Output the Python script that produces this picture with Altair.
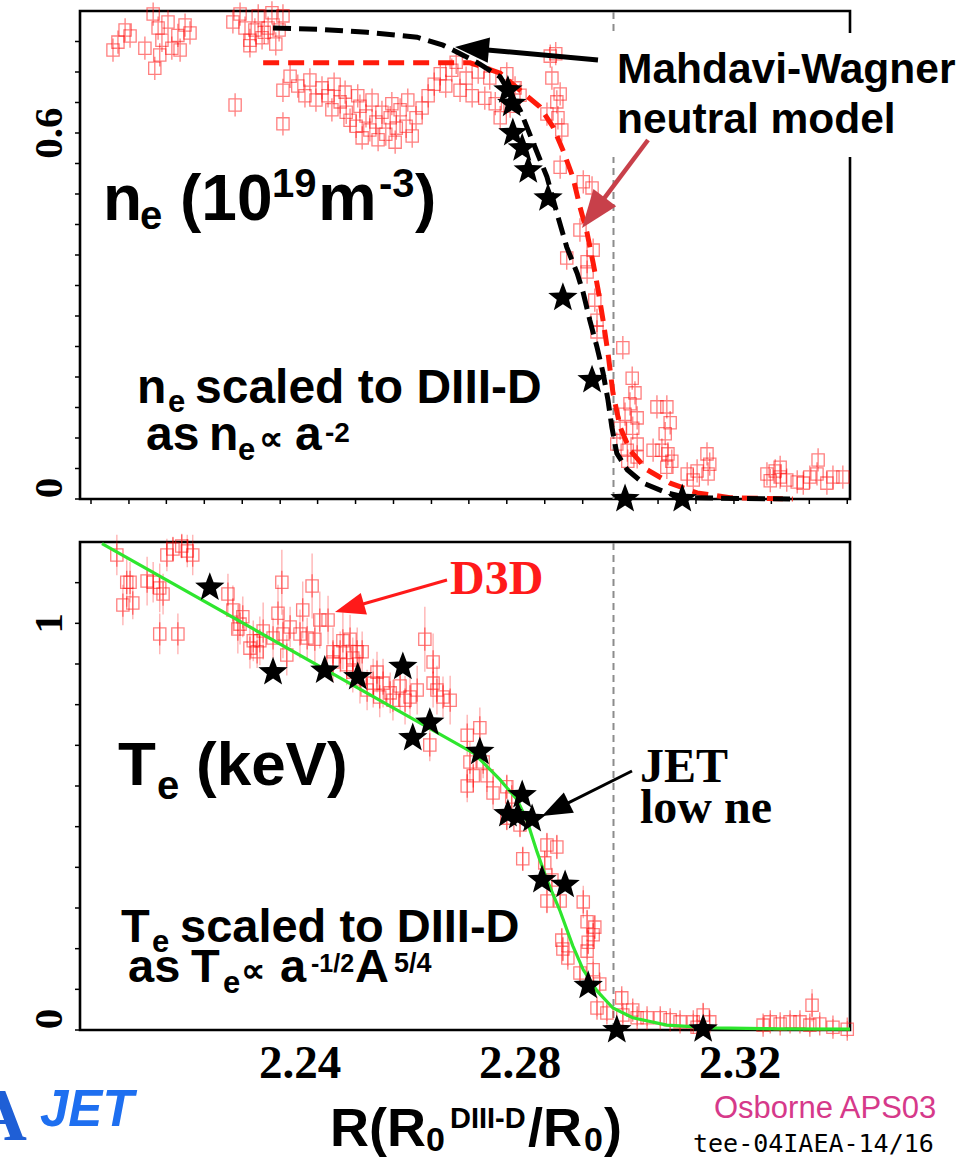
import math
import altair as alt
import pandas as pd

# ---------------------------------------------------------------- data
R_DOMAIN = [2.20, 2.34]
NE_DOMAIN = [0.0, 0.8]
TE_DOMAIN = [0.0, 1.2]
SEPARATRIX_R = 2.297

# DIII-D density profile points (R, n_e)
d3d_ne = [
    (2.2060, 0.736), (2.2069, 0.749), (2.2082, 0.769), (2.2091, 0.759), (2.2133, 0.795),
    (2.2142, 0.772), (2.2149, 0.752), (2.2145, 0.728), (2.2136, 0.706), (2.2160, 0.782),
    (2.2167, 0.739), (2.2178, 0.760), (2.2191, 0.777), (2.2200, 0.764), (2.2182, 0.736),
    (2.2118, 0.739),
    (2.2278, 0.782), (2.2291, 0.795), (2.2300, 0.772), (2.2309, 0.752), (2.2318, 0.769),
    (2.2324, 0.792), (2.2331, 0.756), (2.2342, 0.772), (2.2349, 0.797), (2.2356, 0.746),
    (2.2369, 0.792), (2.2309, 0.743), (2.2335, 0.765), (2.2362, 0.769),
    (2.2282, 0.646), (2.2369, 0.615),
    (2.2369, 0.670), (2.2382, 0.693), (2.2396, 0.677), (2.2409, 0.661), (2.2418, 0.687),
    (2.2429, 0.654), (2.2440, 0.674), (2.2451, 0.661), (2.2462, 0.680), (2.2473, 0.651),
    (2.2458, 0.638), (2.2484, 0.634), (2.2491, 0.621), (2.2502, 0.611), (2.2509, 0.644),
    (2.2520, 0.628), (2.2527, 0.605), (2.2538, 0.618), (2.2549, 0.634), (2.2556, 0.598),
    (2.2564, 0.625), (2.2575, 0.608), (2.2582, 0.638), (2.2593, 0.611), (2.2604, 0.595),
    (2.2611, 0.625), (2.2622, 0.641), (2.2633, 0.661), (2.2644, 0.680), (2.2655, 0.697),
    (2.2665, 0.677), (2.2676, 0.703), (2.2684, 0.716), (2.2691, 0.670), (2.2702, 0.690),
    (2.2713, 0.661), (2.2724, 0.700), (2.2482, 0.667), (2.2505, 0.661), (2.2531, 0.654),
    (2.2567, 0.648), (2.2596, 0.654), (2.2513, 0.592), (2.2573, 0.585), (2.2542, 0.589),
    (2.2736, 0.657), (2.2745, 0.690), (2.2755, 0.648), (2.2776, 0.697), (2.2782, 0.644),
    (2.2764, 0.625), (2.2791, 0.674), (2.2800, 0.662),
    (2.2855, 0.726), (2.2865, 0.730), (2.2858, 0.690), (2.2873, 0.664), (2.2867, 0.651),
    (2.2849, 0.631), (2.2869, 0.625), (2.2876, 0.605), (2.2873, 0.544), (2.2915, 0.520),
    (2.2931, 0.510), (2.2909, 0.441), (2.2933, 0.408), (2.2885, 0.395), (2.2922, 0.389),
    (2.2922, 0.372), (2.2936, 0.326), (2.2940, 0.293), (2.2940, 0.274), (2.2987, 0.248),
    (2.3004, 0.198), (2.3009, 0.174), (2.3000, 0.156), (2.2991, 0.139), (2.3013, 0.133),
    (2.3049, 0.151), (2.3067, 0.151), (2.3073, 0.125), (2.3064, 0.107), (2.3005, 0.116),
    (2.2982, 0.116), (2.2976, 0.090), (2.2995, 0.080), (2.3013, 0.090), (2.3042, 0.080),
    (2.3058, 0.080), (2.3069, 0.074), (2.3076, 0.062), (2.3067, 0.052), (2.3013, 0.069),
    (2.2996, 0.062), (2.3122, 0.046), (2.3140, 0.074), (2.3145, 0.057), (2.3142, 0.041),
    (2.3115, 0.031), (2.3104, 0.041), (2.3249, 0.041), (2.3264, 0.046), (2.3273, 0.052),
    (2.3285, 0.031), (2.3304, 0.028), (2.3327, 0.036), (2.3342, 0.064), (2.3340, 0.041),
    (2.3369, 0.036), (2.3387, 0.036), (2.3358, 0.026), (2.3315, 0.026), (2.3255, 0.030),
    (2.3273, 0.036),
]

# JET low-ne density, scaled to DIII-D (stars)
jet_ne = [
    (2.2778, 0.670), (2.2785, 0.648), (2.2787, 0.600), (2.2804, 0.575), (2.2815, 0.539),
    (2.2851, 0.493), (2.2878, 0.330), (2.2931, 0.195), (2.2991, 0.000), (2.3095, 0.000),
]

# Mahdavi-Wagner neutral model, JET case (black dashed)
mw_jet = [
    (2.2351, 0.772), (2.2436, 0.770), (2.2522, 0.765), (2.2613, 0.757), (2.2660, 0.744),
    (2.2700, 0.726), (2.2727, 0.713), (2.2764, 0.692), (2.2800, 0.638), (2.2824, 0.584),
    (2.2849, 0.528), (2.2867, 0.469), (2.2885, 0.413), (2.2904, 0.370), (2.2915, 0.338),
    (2.2927, 0.293), (2.2940, 0.249), (2.2951, 0.207), (2.2960, 0.162), (2.2967, 0.118),
    (2.2976, 0.075), (2.2995, 0.048), (2.3024, 0.026), (2.3067, 0.010), (2.3104, 0.002),
    (2.3291, 0.000),
]

# Mahdavi-Wagner neutral model, DIII-D case (red dashed)
mw_d3d = [
    (2.2333, 0.715), (2.2709, 0.715), (2.2727, 0.710), (2.2764, 0.698), (2.2800, 0.670),
    (2.2836, 0.643), (2.2860, 0.610), (2.2878, 0.572), (2.2896, 0.528), (2.2909, 0.479),
    (2.2922, 0.436), (2.2933, 0.387), (2.2942, 0.343), (2.2951, 0.293), (2.2960, 0.239),
    (2.2969, 0.174), (2.2982, 0.118), (2.3000, 0.080), (2.3031, 0.048), (2.3073, 0.026),
    (2.3122, 0.010), (2.3182, 0.002), (2.3296, 0.000),
]

# DIII-D temperature profile points (R, T_e, error)
d3d_te = [
    (2.2067, 1.168, 0.05), (2.2085, 1.101, 0.06), (2.2078, 1.045, 0.05), (2.2096, 1.050, 0.04),
    (2.2091, 1.101, 0.05), (2.2122, 1.104, 0.06), (2.2133, 1.101, 0.05), (2.2145, 1.087, 0.06),
    (2.2151, 1.072, 0.05), (2.2158, 1.168, 0.04), (2.2169, 1.183, 0.03), (2.2185, 1.190, 0.03),
    (2.2195, 1.178, 0.04), (2.2205, 1.168, 0.05), (2.2145, 0.974, 0.05), (2.2178, 0.974, 0.05),
    (2.2269, 1.072, 0.05), (2.2278, 1.033, 0.06), (2.2291, 0.998, 0.05), (2.2287, 0.986, 0.06),
    (2.2296, 1.016, 0.05), (2.2315, 0.957, 0.05), (2.2327, 0.957, 0.06), (2.2309, 0.939, 0.05),
    (2.2322, 0.930, 0.04), (2.2333, 0.981, 0.07), (2.2351, 0.964, 0.05), (2.2367, 1.101, 0.08),
    (2.2360, 1.025, 0.07), (2.2369, 0.974, 0.06), (2.2382, 0.991, 0.05), (2.2376, 0.922, 0.05),
    (2.2400, 0.974, 0.06), (2.2405, 1.033, 0.07), (2.2422, 1.092, 0.08), (2.2413, 0.964, 0.05),
    (2.2427, 0.961, 0.06), (2.2436, 1.008, 0.07), (2.2451, 1.008, 0.06), (2.2460, 0.930, 0.06),
    (2.2473, 0.930, 0.05), (2.2478, 0.957, 0.07), (2.2491, 0.961, 0.06), (2.2496, 0.915, 0.05),
    (2.2504, 0.930, 0.06), (2.2513, 0.930, 0.05), (2.2509, 0.863, 0.06), (2.2522, 0.836, 0.05),
    (2.2533, 0.853, 0.06), (2.2540, 0.880, 0.05), (2.2551, 0.853, 0.06), (2.2564, 0.829, 0.05),
    (2.2582, 0.846, 0.06), (2.2569, 0.811, 0.05), (2.2591, 0.811, 0.06), (2.2600, 0.819, 0.05),
    (2.2613, 0.836, 0.06), (2.2627, 0.961, 0.08), (2.2642, 0.905, 0.07), (2.2642, 0.853, 0.06),
    (2.2649, 0.836, 0.06), (2.2660, 0.819, 0.05), (2.2673, 0.811, 0.06), (2.2636, 0.701, 0.04),
    (2.2704, 0.725, 0.05), (2.2709, 0.659, 0.05), (2.2715, 0.625, 0.04), (2.2704, 0.600, 0.04),
    (2.2460, 0.905, 0.05), (2.2485, 0.898, 0.05), (2.2496, 0.880, 0.05), (2.2545, 0.819, 0.05),
    (2.2727, 0.743, 0.05), (2.2733, 0.659, 0.04), (2.2740, 0.625, 0.04), (2.2751, 0.583, 0.04),
    (2.2776, 0.598, 0.03), (2.2785, 0.573, 0.04), (2.2776, 0.521, 0.03), (2.2800, 0.504, 0.03),
    (2.2849, 0.455, 0.03), (2.2867, 0.450, 0.03), (2.2805, 0.421, 0.03), (2.2845, 0.411, 0.03),
    (2.2858, 0.369, 0.03), (2.2849, 0.317, 0.03), (2.2873, 0.317, 0.03), (2.2915, 0.315, 0.04),
    (2.2922, 0.266, 0.03), (2.2936, 0.253, 0.03), (2.2933, 0.234, 0.03), (2.2924, 0.216, 0.03),
    (2.2876, 0.221, 0.03), (2.2878, 0.199, 0.03), (2.2887, 0.177, 0.02), (2.2922, 0.194, 0.02),
    (2.2909, 0.140, 0.02), (2.2933, 0.148, 0.02), (2.2945, 0.113, 0.02), (2.2940, 0.054, 0.02),
    (2.2958, 0.042, 0.02), (2.2985, 0.079, 0.02), (2.2987, 0.037, 0.02), (2.3005, 0.049, 0.02),
    (2.3013, 0.030, 0.02), (2.3031, 0.030, 0.02), (2.3055, 0.030, 0.02), (2.3073, 0.025, 0.02),
    (2.3091, 0.020, 0.02), (2.3115, 0.020, 0.02), (2.3133, 0.037, 0.03), (2.3145, 0.020, 0.02),
    (2.3122, 0.007, 0.02), (2.3255, 0.020, 0.02), (2.3273, 0.015, 0.02), (2.3291, 0.020, 0.02),
    (2.3309, 0.020, 0.02), (2.3327, 0.012, 0.02), (2.3331, 0.061, 0.04), (2.3345, 0.015, 0.02),
    (2.3369, 0.007, 0.02), (2.3395, 0.002, 0.02), (2.3242, 0.012, 0.02),
]

# JET low-ne temperature, scaled to DIII-D (stars)
jet_te = [
    (2.2236, 1.088), (2.2351, 0.880), (2.2445, 0.884), (2.2505, 0.868), (2.2587, 0.893),
    (2.2605, 0.718), (2.2636, 0.756), (2.2727, 0.684), (2.2804, 0.578), (2.2778, 0.531),
    (2.2796, 0.526), (2.2822, 0.519), (2.2840, 0.369), (2.2882, 0.357), (2.2924, 0.109),
    (2.2976, 0.000), (2.3133, 0.002),
]

# tanh-like fit to the temperature pedestal (green)
fit_te = [
    (2.2040, 1.196), (2.2722, 0.676), (2.2727, 0.666), (2.2764, 0.615), (2.2795, 0.566),
    (2.2813, 0.514), (2.2831, 0.438), (2.2849, 0.369), (2.2873, 0.292), (2.2896, 0.207),
    (2.2915, 0.148), (2.2940, 0.096), (2.2969, 0.054), (2.3005, 0.030), (2.3067, 0.012),
    (2.3151, 0.005), (2.3273, 0.003), (2.3400, 0.002),
]

# axis ticks and labels
r_labels = [2.24, 2.28, 2.32]
r_minor = [2.2020, 2.2089, 2.2157, 2.2226, 2.2295, 2.2364, 2.2432, 2.2501, 2.2570,
           2.2639, 2.2707, 2.2776, 2.2845, 2.2914, 2.2982, 2.3051, 2.3120, 2.3189,
           2.3257, 2.3326, 2.3395]
ne_ticks = [round(i * 0.05, 2) for i in range(16)]
te_ticks = [round(i * 0.1, 1) for i in range(12)]
ne_labels = [0.0, 0.6]
te_labels = [0.0, 1.0]

# ---------------------------------------------------------------- layout (pixels)
W, H = 969, 1159
PLOT_X = [80, 850]
NE_Y = [499, 11]
TE_Y = [1030, 542]
TICK_END = 75          # outer end of the y ticks
YLABEL_X = 62          # baseline of the rotated y labels
XLABEL_Y = 1078        # baseline of the R labels

SERIF = "Liberation Serif"
SANS = "Liberation Sans"
D3D_RED = "#ff0000"
D3D_GLYPH = "M-1,-1H1V1H-1Z M0,-1.9V1.9"
HEAD = "M1,0L-1,-0.75L-1,0.75Z"


def star_path(inner=0.42):
    pts = []
    for k in range(10):
        a = math.radians(-90 + 36 * k)
        r = 1.0 if k % 2 == 0 else inner
        pts.append(f"{r * math.cos(a):.3f},{r * math.sin(a):.3f}")
    return "M" + "L".join(pts) + "Z"


STAR = star_path()


def df(rows, cols):
    return pd.DataFrame(rows, columns=cols)


def fmt(v):
    return f"{v:g}"


def panel(frame_y, xs, ys, y_ticks, y_labels, pts, err, stars, curves, x_minor=None, x_labels=None):
    X = lambda f: alt.X(f, scale=xs, axis=None)
    Y = lambda f: alt.Y(f, scale=ys, axis=None)

    frame = alt.Chart(pd.DataFrame({"x0": [R_DOMAIN[0]], "x1": [R_DOMAIN[1]],
                                    "y0": [frame_y[0]], "y1": [frame_y[1]]})).mark_rect(
        fillOpacity=0, stroke="black", strokeWidth=2.6
    ).encode(x=X("x0:Q"), x2="x1:Q", y=Y("y0:Q"), y2="y1:Q")

    sep = alt.Chart(pd.DataFrame({"R": [SEPARATRIX_R], "y0": [frame_y[0]], "y1": [frame_y[1]]})).mark_rule(
        color="#8c8c8c", strokeWidth=2, strokeDash=[7, 5]
    ).encode(x=X("R:Q"), y=Y("y0:Q"), y2="y1:Q")

    # y axis: ticks and rotated labels
    yt = alt.Chart(pd.DataFrame({"R": [R_DOMAIN[0]] * len(y_ticks), "v": y_ticks})).mark_rule(
        color="black", strokeWidth=1.5
    ).encode(x=X("R:Q"), x2=alt.value(TICK_END), y=Y("v:Q"))
    ylab = pd.DataFrame({"v": y_labels, "lab": [fmt(v) for v in y_labels]})
    ylab_main = alt.Chart(ylab[ylab.v != 0]).mark_text(
        angle=270, align="center", baseline="alphabetic", font=SERIF, fontWeight="bold",
        fontSize=41, color="black"
    ).encode(x=alt.value(YLABEL_X), y=Y("v:Q"), text="lab:N")
    ylab_zero = alt.Chart(ylab[ylab.v == 0]).mark_text(
        angle=270, align="center", baseline="alphabetic", font=SERIF, fontWeight="bold",
        fontSize=41, color="black", dx=11
    ).encode(x=alt.value(YLABEL_X), y=Y("v:Q"), text="lab:N")

    layers = [frame, sep, yt, ylab_main, ylab_zero]

    if x_minor is not None:
        layers.append(
            alt.Chart(pd.DataFrame({"R": x_minor, "v": [frame_y[0]] * len(x_minor)})).mark_rule(
                color="black", strokeWidth=1.5
            ).encode(x=X("R:Q"), y=Y("v:Q"), y2=alt.value(NE_Y[0] + 5))
        )
    if x_labels is not None:
        layers.append(
            alt.Chart(pd.DataFrame({"R": x_labels, "lab": [f"{v:.2f}" for v in x_labels]})).mark_text(
                align="center", baseline="alphabetic", font=SERIF, fontWeight="bold",
                fontSize=47, color="black"
            ).encode(x=X("R:Q"), y=alt.value(XLABEL_Y), text="lab:N")
        )

    if err is not None:
        layers.append(
            alt.Chart(err).mark_rule(color=D3D_RED, opacity=0.32, strokeWidth=1.3).encode(
                x=X("R:Q"), y=Y("lo:Q"), y2="hi:Q"
            )
        )
    layers.append(
        alt.Chart(pts).mark_point(shape=D3D_GLYPH, filled=False, color=D3D_RED, opacity=0.5,
                                  size=150, strokeWidth=1.3).encode(x=X("R:Q"), y=Y("v:Q"))
    )
    for data, style in curves:
        layers.append(
            alt.Chart(data).mark_line(**style).encode(x=X("R:Q"), y=Y("v:Q"), order="R:Q")
        )
    layers.append(
        alt.Chart(stars).mark_point(shape=STAR, filled=True, color="black", opacity=1,
                                    size=950).encode(x=X("R:Q"), y=Y("v:Q"))
    )
    return alt.layer(*layers)


# ---- upper panel: density
x_ne = alt.Scale(domain=R_DOMAIN, range=PLOT_X, zero=False, nice=False)
y_ne = alt.Scale(domain=NE_DOMAIN, range=NE_Y, zero=False, nice=False)
ne_panel = panel(
    NE_DOMAIN, x_ne, y_ne, ne_ticks, ne_labels,
    df(d3d_ne, ["R", "v"]), None, df(jet_ne, ["R", "v"]),
    [
        (df(mw_d3d, ["R", "v"]), dict(color="#ff1a0a", strokeWidth=5, strokeDash=[16, 9])),
        (df(mw_jet, ["R", "v"]), dict(color="black", strokeWidth=5, strokeDash=[18, 8])),
    ],
    x_minor=r_minor,
)

# ---- lower panel: temperature
x_te = alt.Scale(domain=R_DOMAIN, range=PLOT_X, zero=False, nice=False)
y_te = alt.Scale(domain=TE_DOMAIN, range=TE_Y, zero=False, nice=False)
te_pts = df(d3d_te, ["R", "v", "err"])
te_pts["lo"] = te_pts["v"] - te_pts["err"]
te_pts["hi"] = te_pts["v"] + te_pts["err"]
te_panel = panel(
    TE_DOMAIN, x_te, y_te, te_ticks, te_labels,
    te_pts, te_pts, df(jet_te, ["R", "v"]),
    [(df(fit_te, ["R", "v"]), dict(color="#2ee62e", strokeWidth=3.2))],
    x_labels=r_labels,
)

# ---- annotation arrows (pixel geometry)
arrows = [
    # tail x, tail y, tip x, tip y, colour, line width, head length
    (598, 60, 455, 47, "black", 5, 34),
    (648, 140, 582, 228, "#c8404a", 4.5, 38),
    (447, 580, 335, 612, "#ff1a1a", 3, 30),
    (632, 771, 542, 816, "black", 3, 30),
]
arrow_rows = []
for tx, ty, hx, hy, col, w, hl in arrows:
    dx, dy = hx - tx, hy - ty
    L = math.hypot(dx, dy)
    ux, uy = dx / L, dy / L
    arrow_rows.append(dict(
        x=tx, y=ty, x2=hx - ux * hl * 0.7, y2=hy - uy * hl * 0.7,
        cx=hx - ux * hl / 2, cy=hy - uy * hl / 2,
        ang=math.degrees(math.atan2(dy, dx)) % 360, col=col, w=w, s=hl * hl,
    ))
arrow_df = pd.DataFrame(arrow_rows)

arrow_lines = alt.Chart(arrow_df).mark_rule().encode(
    x=alt.X("x:Q", scale=None), y=alt.Y("y:Q", scale=None),
    x2="x2:Q", y2="y2:Q",
    color=alt.Color("col:N", scale=None),
    strokeWidth=alt.StrokeWidth("w:Q", scale=None),
)
arrow_heads = alt.Chart(arrow_df).mark_point(shape=HEAD, filled=True, opacity=1).encode(
    x=alt.X("cx:Q", scale=None), y=alt.Y("cy:Q", scale=None),
    angle=alt.Angle("ang:Q", scale=None),
    size=alt.Size("s:Q", scale=None),
    color=alt.Color("col:N", scale=None),
)

# white backing behind the model label, cutting the frame
label_box = alt.Chart(pd.DataFrame({"a": [0]})).mark_rect(color="white").encode(
    x=alt.value(603), x2=alt.value(W), y=alt.value(33), y2=alt.value(157)
)


def text_layer(rows, font, weight="bold", style="normal", align="left"):
    return alt.Chart(pd.DataFrame(rows, columns=["t", "x", "y", "s", "c"])).mark_text(
        align=align, baseline="alphabetic", font=font, fontWeight=weight, fontStyle=style
    ).encode(
        x=alt.X("x:Q", scale=None), y=alt.Y("y:Q", scale=None),
        text="t:N", size=alt.Size("s:Q", scale=None), color=alt.Color("c:N", scale=None),
    )


sans_bold = [
    # density label with sub/superscripts
    ("n", 103, 220, 64, "black"), ("e", 140, 229, 40, "black"), ("(10", 180, 220, 64, "black"),
    ("19", 272, 197, 40, "black"), ("m", 318, 220, 66, "black"), ("-3", 379, 197, 40, "black"),
    (")", 415, 220, 64, "black"),
    ("Mahdavi-Wagner", 617, 83, 42.5, "black"), ("neutral model", 617, 133, 42.5, "black"),
    ("n", 137, 403, 48, "black"), ("e", 168, 412, 31, "black"),
    ("scaled to DIII-D", 195, 403, 48, "black"),
    ("as", 146, 450, 48, "black"), ("n", 209, 450, 48, "black"), ("e", 238, 460, 31, "black"),
    ("∝", 259, 450, 34, "black"), ("a", 295, 450, 48, "black"), ("-2", 325, 442, 28, "black"),
    # temperature label
    ("T", 118, 785, 62, "black"), ("e", 157, 799, 40, "black"), ("(keV)", 196, 785, 62, "black"),
    ("T", 121, 942, 47, "black"), ("e", 152, 952, 31, "black"),
    ("scaled to DIII-D", 180, 942, 47, "black"),
    ("as", 128, 982, 47, "black"), ("T", 191, 982, 47, "black"), ("e", 223, 993, 31, "black"),
    ("∝", 241, 982, 34, "black"), ("a", 280, 982, 47, "black"), ("-1/2", 311, 972, 25, "black"),
    ("A", 355, 982, 47, "black"), ("5/4", 394, 972, 27, "black"),
    # R axis title
    ("R(R", 330, 1146, 54, "black"), ("0", 426, 1151, 34, "black"), ("DIII-D", 450, 1128, 29, "black"),
    ("/R", 528, 1146, 54, "black"), ("0", 584, 1151, 34, "black"), (")", 604, 1146, 54, "black"),
]
serif_bold = [
    ("D3D", 450, 594, 48, "#ff1a1a"),
    ("JET", 640, 782, 48, "black"), ("low ne", 640, 823, 48, "black"),
]

texts = [
    text_layer(sans_bold, SANS),
    text_layer(serif_bold, SERIF),
    text_layer([("JET", 40, 1126, 51, "#1e6ff0")], SANS, style="italic"),
    text_layer([("A", 27, 1140, 75, "#1f5fd6")], SERIF, align="right"),
    text_layer([("Osborne APS03", 714, 1118, 31, "#d6398a")], SANS, weight="normal"),
    text_layer([("tee-04IAEA-14/16", 693, 1152, 25, "black")], "DejaVu Sans Mono", weight="normal"),
]

chart = alt.layer(
    ne_panel, te_panel, label_box, arrow_lines, arrow_heads, *texts
).resolve_scale(
    x="independent", y="independent"
).properties(
    width=W, height=H, autosize=alt.AutoSizeParams(type="none"), padding=0,
    background="white",
).configure_view(strokeWidth=0)

chart.save("out.html", embed_options={"renderer": "svg", "actions": False})
